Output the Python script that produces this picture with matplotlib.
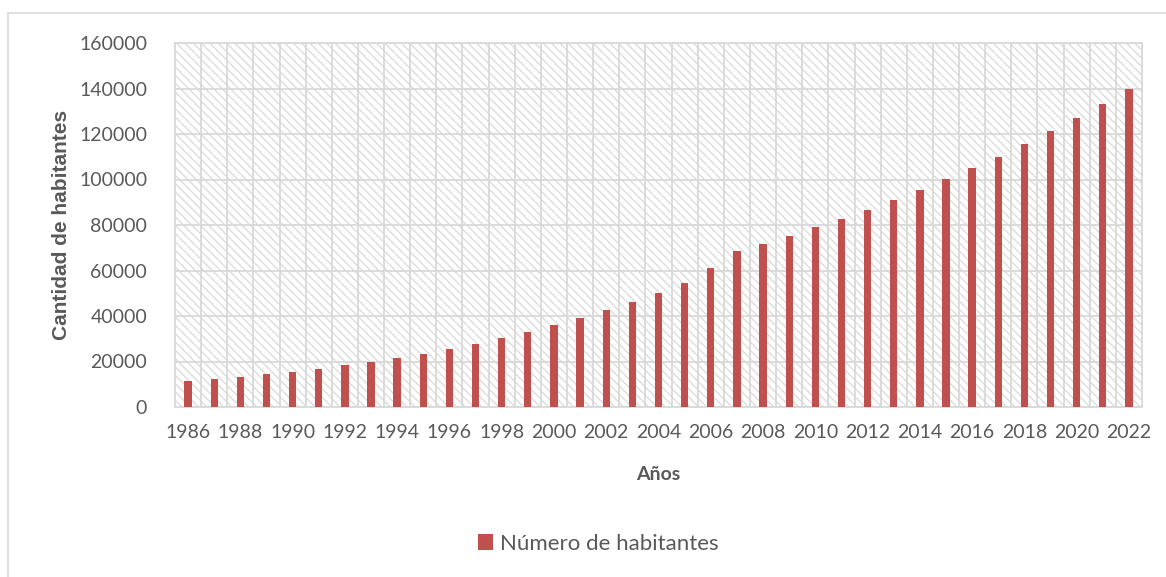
import numpy as np
import matplotlib
matplotlib.use("Agg")
import matplotlib.pyplot as plt
from matplotlib.patches import Rectangle

# data
years = list(range(1986, 2023))
habitantes = [11300, 12200, 13300, 14400, 15600, 16900, 18400, 19900, 21600, 23500,
              25600, 27800, 30300, 33000, 36000, 39200, 42500, 46200, 50300, 54700,
              61200, 68400, 71700, 75300, 79000, 82800, 86800, 91000, 95600, 100100,
              105100, 110100, 115700, 121200, 127000, 133200, 139700]
serie = "Número de habitantes"
xlabel = "Años"
ylabel = "Cantidad de habitantes"

plt.rcParams['font.family'] = ['Lato', 'DejaVu Sans']
plt.rcParams['hatch.linewidth'] = 1.0

txt = '#595959'
grid = '#d9d9d9'
bar_color = '#c0504d'

fig = plt.figure(figsize=(11.66, 5.77), dpi=100)
ax = fig.add_axes([175/1166, 1-407/577, (1142-175)/1166, (407-43)/577])

# outer chart border
fig.patches.append(Rectangle((8/1166, -0.1), 1.2, 1-13/577+0.1, transform=fig.transFigure,
                             fill=False, edgecolor=grid, linewidth=1.2))

# hatched plot area
ax.patch.set_facecolor('white')
ax.add_patch(Rectangle((0, 0), 1, 1, transform=ax.transAxes, facecolor='white',
                       edgecolor='#dcdcdc', hatch='\\\\\\\\', linewidth=0, zorder=0))

ax.bar(years, habitantes, width=0.28, color=bar_color, zorder=3, label=serie)

ax.set_xlim(years[0]-0.5, years[-1]+0.5)
ax.set_ylim(0, 160000)
ax.set_yticks(np.arange(0, 160001, 20000))
ax.set_yticklabels([str(v) for v in range(0, 160001, 20000)])
ax.set_xticks(years[::2])
ax.set_xticks([y + 0.5 for y in years[:-1]], minor=True)
ax.grid(True, axis='y', which='major', color=grid, linewidth=1.3, zorder=1)
ax.grid(True, axis='x', which='minor', color=grid, linewidth=1.3, zorder=1)
ax.grid(False, axis='x', which='major')
ax.set_axisbelow(True)
for s in ax.spines.values():
    s.set_color(grid)
    s.set_linewidth(1.3)
ax.tick_params(which='both', length=0, colors=txt, labelsize=14)
ax.tick_params(axis='y', pad=20)
ax.tick_params(axis='x', pad=12)

ax.set_xlabel(xlabel, fontsize=14, fontweight='bold', color=txt, labelpad=18)
ax.set_ylabel(ylabel, fontsize=15, fontweight='bold', color=txt, labelpad=6,
              family=['Liberation Sans', 'DejaVu Sans'])

leg = fig.legend(loc='center', bbox_to_anchor=(598/1166, 1-544/577), frameon=False,
                 fontsize=16, handlelength=0.7, handleheight=0.7, handletextpad=0.3)
for t in leg.get_texts():
    t.set_color(txt)

fig.savefig('out.png', dpi=100)
